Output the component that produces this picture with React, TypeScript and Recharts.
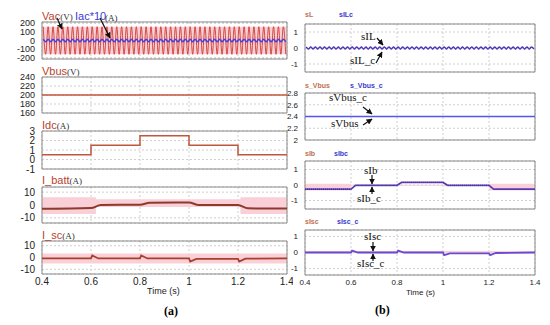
import type { ReactNode } from 'react';
import { ComposedChart, Line, Area, XAxis, YAxis, CartesianGrid, ReferenceArea } from 'recharts';

const timeTicks = [0.4, 0.6, 0.8, 1, 1.2, 1.4];

// 50 Hz signals, one value per half-cycle peak (0.405 s, 0.415 s, ...)
const vacPeaks = [
  160, -160, 160, -160, 160, -160, 160, -160, 160, -160,
  160, -160, 160, -160, 160, -160, 160, -160, 160, -160,
  160, -160, 160, -160, 160, -160, 160, -160, 160, -160,
  160, -160, 160, -160, 160, -160, 160, -160, 160, -160,
  160, -160, 160, -160, 160, -160, 160, -160, 160, -160,
  160, -160, 160, -160, 160, -160, 160, -160, 160, -160,
  160, -160, 160, -160, 160, -160, 160, -160, 160, -160,
  160, -160, 160, -160, 160, -160, 160, -160, 160, -160,
  160, -160, 160, -160, 160, -160, 160, -160, 160, -160,
  160, -160, 160, -160, 160, -160, 160, -160, 160, -160,
];
const iacPeaks = [
  14, -14, 14, -14, 14, -14, 14, -14, 14, -14,
  14, -14, 14, -14, 14, -14, 14, -14, 14, -14,
  14, -14, 14, -14, 14, -14, 14, -14, 14, -14,
  14, -14, 14, -14, 14, -14, 14, -14, 14, -14,
  14, -14, 14, -14, 14, -14, 14, -14, 14, -14,
  14, -14, 14, -14, 14, -14, 14, -14, 14, -14,
  14, -14, 14, -14, 14, -14, 14, -14, 14, -14,
  14, -14, 14, -14, 14, -14, 14, -14, 14, -14,
  14, -14, 14, -14, 14, -14, 14, -14, 14, -14,
  14, -14, 14, -14, 14, -14, 14, -14, 14, -14,
];
const sILPeaks = [
  0.06, -0.06, 0.06, -0.06, 0.06, -0.06, 0.06, -0.06, 0.06, -0.06,
  0.06, -0.06, 0.06, -0.06, 0.06, -0.06, 0.06, -0.06, 0.06, -0.06,
  0.06, -0.06, 0.06, -0.06, 0.06, -0.06, 0.06, -0.06, 0.06, -0.06,
  0.06, -0.06, 0.06, -0.06, 0.06, -0.06, 0.06, -0.06, 0.06, -0.06,
  0.06, -0.06, 0.06, -0.06, 0.06, -0.06, 0.06, -0.06, 0.06, -0.06,
  0.06, -0.06, 0.06, -0.06, 0.06, -0.06, 0.06, -0.06, 0.06, -0.06,
  0.06, -0.06, 0.06, -0.06, 0.06, -0.06, 0.06, -0.06, 0.06, -0.06,
  0.06, -0.06, 0.06, -0.06, 0.06, -0.06, 0.06, -0.06, 0.06, -0.06,
  0.06, -0.06, 0.06, -0.06, 0.06, -0.06, 0.06, -0.06, 0.06, -0.06,
  0.06, -0.06, 0.06, -0.06, 0.06, -0.06, 0.06, -0.06, 0.06, -0.06,
];

const vbusT = [0.4, 1.4];
const vbusV = [200, 200];
const sVbusV = [2.4, 2.4];

const idcT = [0.4, 0.6, 0.6, 0.8, 0.8, 1.0, 1.0, 1.2, 1.2, 1.4];
const idcV = [0.5, 0.5, 1.5, 1.5, 2.5, 2.5, 1.5, 1.5, 0.5, 0.5];

const battT = [0.4, 0.6, 0.64, 0.8, 0.84, 1.0, 1.04, 1.2, 1.24, 1.4];
const battV = [-3, -2.4, 0, 0.2, 1.8, 2, 0, 0, -2.6, -2.8];
const battBandT = [0.4, 0.62, 0.62, 1.21, 1.21, 1.4];
const battBandLo = [-7, -7, -1.5, -1.5, -7, -7];
const battBandHi = [6, 6, 4.5, 4.5, 6, 6];

const iscT = [0.4, 0.6, 0.605, 0.63, 0.8, 0.805, 0.83, 1.0, 1.005, 1.03, 1.2, 1.205, 1.23, 1.4];
const iscV = [-0.8, -0.8, 1.8, -0.8, -0.8, 1.8, -0.8, -0.8, -3.5, -1.2, -1.2, -3.5, -1, -0.8];
const iscBandT = [0.4, 1.4];
const iscBandLo = [-5, -5];
const iscBandHi = [3.5, 3.5];

const vacBandT = [0.4, 1.4];
const vacBandLo = [-160, -160];
const vacBandHi = [160, 160];

const sIbT = [0.4, 0.6, 0.62, 0.8, 0.82, 1.0, 1.02, 1.2, 1.22, 1.4];
const sIbV = [-0.27, -0.27, -0.02, -0.02, 0.17, 0.17, -0.02, -0.02, -0.27, -0.27];
const sIbBandT = [0.4, 0.6, 0.6, 1.2, 1.2, 1.4];
const sIbBandLo = [-0.35, -0.35, -0.05, -0.05, -0.35, -0.35];
const sIbBandHi = [0.08, 0.08, 0.02, 0.02, 0.08, 0.08];

const sIscT = [0.4, 0.6, 0.605, 0.63, 0.8, 0.805, 0.83, 1.0, 1.005, 1.03, 1.2, 1.205, 1.23, 1.4];
const sIscV = [0, 0, 0.12, 0, 0, 0.12, 0, 0, -0.16, -0.05, -0.05, -0.16, -0.03, 0];
const sIscBandT = [0.4, 1.4];
const sIscBandLo = [-0.04, -0.04];
const sIscBandHi = [0.1, 0.1];

const acRows = vacPeaks.map((v, i) => ({
  t: 0.405 + i * 0.01,
  vac: v,
  iac: iacPeaks[i],
  sIL: sILPeaks[i],
}));
const rows = (t: number[], v: number[]) => t.map((x, i) => ({ t: x, v: v[i] }));
const band = (t: number[], lo: number[], hi: number[]) =>
  t.map((x, i) => ({ t: x, band: [lo[i], hi[i]] }));

const SANS = 'Arial, "Liberation Sans", sans-serif';
const SERIF = '"Times New Roman", "Liberation Serif", serif';
const PAD = 6;

type PanelProps = {
  left: number;
  top: number;
  plotW: number;
  plotH: number;
  axisW: number;
  domain: [number, number];
  ticks: number[];
  small?: boolean;
  tickSize?: number;
  showTime?: boolean;
  children: ReactNode;
};

function Panel({ left, top, plotW, plotH, axisW, domain, ticks, small, tickSize, showTime, children }: PanelProps) {
  const fs = tickSize ?? (small ? 8 : 10);
  const xH = showTime ? (small ? 14 : 14) : 0;
  const yTick = { fontSize: fs, fill: '#222', fontFamily: SANS };
  const xTick = { fontSize: small ? 8 : 10, fill: '#222', fontFamily: SANS };
  return (
    <div style={{ position: 'absolute', left: left - axisW, top: top - PAD }}>
      <ComposedChart
        width={axisW + plotW + PAD}
        height={plotH + PAD * 2 + xH}
        margin={{ top: PAD, right: PAD, bottom: PAD, left: 0 }}
      >
        <CartesianGrid strokeDasharray="2 2" stroke="#cfcfcf" />
        <XAxis
          type="number"
          dataKey="t"
          domain={[0.4, 1.4]}
          ticks={timeTicks}
          allowDataOverflow
          hide={!showTime}
          height={xH}
          tick={xTick}
          tickLine={false}
          axisLine={false}
          tickSize={2}
          tickMargin={2}
          tickFormatter={(v: number) => String(Number(v.toFixed(1)))}
        />
        <YAxis
          type="number"
          domain={domain}
          ticks={ticks}
          allowDataOverflow
          width={axisW}
          tick={yTick}
          tickLine={false}
          axisLine={false}
          tickSize={4}
          tickMargin={3}
          interval={0}
        />
        {children}
        <ReferenceArea x1={0.4} x2={1.4} y1={domain[0]} y2={domain[1]} fill="none" stroke="#8a8a8a" strokeWidth={1} />
      </ComposedChart>
    </div>
  );
}

function Txt({ x, y, children, style }: { x: number; y: number; children: ReactNode; style?: object }) {
  return (
    <div
      style={{
        position: 'absolute',
        left: x,
        top: y,
        whiteSpace: 'nowrap',
        lineHeight: 1,
        fontSize: 11,
        fontFamily: SANS,
        ...style,
      }}
    >
      {children}
    </div>
  );
}

const pinkBand = (data: { t: number; band: number[] }[]) => (
  <Area data={data} dataKey="band" type="linear" stroke="none" fill="#f9d0d8" fillOpacity={1} isAnimationActive={false} />
);

const L = { left: 42, plotW: 245, axisW: 42 };
const R = { left: 305, plotW: 230, axisW: 25, small: true };

const arrows: [number, number, number, number][] = [
  [57, 18, 62, 29],
  [100, 18, 110, 38],
  [377, 38, 383, 45],
  [376, 63, 382, 52],
  [363, 107, 372, 114],
  [363, 125, 372, 119],
  [372, 175, 372, 184],
  [372, 194, 372, 187],
  [373, 242, 373, 251],
  [373, 261, 373, 254],
];

export default function App() {
  const title = { fontSize: 11 };
  const unit = { fontSize: 9, color: '#333', fontFamily: SERIF };
  const red = '#b8432f';
  const legend = { fontSize: 7, fontWeight: 700 };
  const ann = { fontSize: 11, fontFamily: SERIF, color: '#111' };
  return (
    <div style={{ position: 'absolute', left: 0, top: 0, width: 550, height: 325, background: '#fff', overflow: 'hidden' }}>
      {/* (a) */}
      <Panel {...L} top={22} plotH={37} domain={[-215, 215]} ticks={[200, 100, 0, -100, -200]} tickSize={9}>
        {pinkBand(band(vacBandT, vacBandLo, vacBandHi))}
        <Line data={acRows} dataKey="vac" type="monotone" stroke="#d4463c" strokeWidth={1} dot={false} isAnimationActive={false} />
        <Line data={acRows} dataKey="iac" type="monotone" stroke="#4a3fd6" strokeWidth={1.5} dot={false} isAnimationActive={false} />
      </Panel>
      <Panel {...L} top={77} plotH={36} domain={[160, 240]} ticks={[240, 220, 200, 180, 160]} tickSize={9}>
        <Line data={rows(vbusT, vbusV)} dataKey="v" type="linear" stroke="#c0563c" strokeWidth={1.5} dot={false} isAnimationActive={false} />
      </Panel>
      <Panel {...L} top={131} plotH={38} domain={[-1, 3]} ticks={[3, 2, 1, 0, -1]}>
        <Line data={rows(idcT, idcV)} dataKey="v" type="linear" stroke="#c0563c" strokeWidth={1.5} dot={false} isAnimationActive={false} />
      </Panel>
      <Panel {...L} top={187} plotH={36} domain={[-14, 14]} ticks={[10, 0, -10]}>
        {pinkBand(band(battBandT, battBandLo, battBandHi))}
        <Line data={rows(battT, battV)} dataKey="v" type="monotone" stroke="#8c3b2a" strokeWidth={2} dot={false} isAnimationActive={false} />
      </Panel>
      <Panel {...L} top={241} plotH={33} domain={[-14, 14]} ticks={[10, 0, -10]} showTime>
        {pinkBand(band(iscBandT, iscBandLo, iscBandHi))}
        <Line data={rows(iscT, iscV)} dataKey="v" type="linear" stroke="#a83e2c" strokeWidth={1.8} dot={false} isAnimationActive={false} />
      </Panel>

      {/* (b) */}
      <Panel {...R} top={24} plotH={48} domain={[-1.5, 1.5]} ticks={[1, 0, -1]}>
        <Line data={acRows} dataKey="sIL" type="monotone" stroke="#6b4ad0" strokeWidth={1.5} dot={false} isAnimationActive={false} />
        <Line data={acRows} dataKey="sIL" name="sILc" type="monotone" stroke="#2b2a7a" strokeWidth={1} strokeDasharray="1 1" dot={false} isAnimationActive={false} />
      </Panel>
      <Panel {...R} top={93} plotH={47} domain={[2, 2.8]} ticks={[2.8, 2.6, 2.4, 2.2, 2]}>
        <Line data={rows(vbusT, sVbusV)} dataKey="v" type="linear" stroke="#5656ee" strokeWidth={1.5} dot={false} isAnimationActive={false} />
      </Panel>
      <Panel {...R} top={161} plotH={48} domain={[-1.55, 1.55]} ticks={[1, 0, -1]}>
        {pinkBand(band(sIbBandT, sIbBandLo, sIbBandHi))}
        <Line data={rows(sIbT, sIbV)} dataKey="v" type="linear" stroke="#6b4ad0" strokeWidth={1.8} dot={false} isAnimationActive={false} />
        <Line data={rows(sIbT, sIbV)} dataKey="v" name="sIbc" type="linear" stroke="#2b2a6a" strokeWidth={1} strokeDasharray="1 1" dot={false} isAnimationActive={false} />
      </Panel>
      <Panel {...R} top={230} plotH={45} domain={[-1.4, 1.4]} ticks={[1, 0, -1]} showTime>
        {pinkBand(band(sIscBandT, sIscBandLo, sIscBandHi))}
        <Line data={rows(sIscT, sIscV)} dataKey="v" type="linear" stroke="#6b4ad0" strokeWidth={1.8} dot={false} isAnimationActive={false} />
      </Panel>

      {/* panel titles (a) */}
      <Txt x={42} y={11}><span style={{ ...title, color: red }}>Vac</span><span style={unit}>(V)</span></Txt>
      <Txt x={75} y={11}><span style={{ ...title, color: '#3b3bd6' }}>Iac*10</span></Txt>
      <Txt x={105} y={12}><span style={unit}>(A)</span></Txt>
      <Txt x={42} y={66}><span style={{ ...title, color: red }}>Vbus</span><span style={unit}>(V)</span></Txt>
      <Txt x={42} y={120}><span style={{ ...title, color: red }}>Idc</span><span style={unit}>(A)</span></Txt>
      <Txt x={42} y={175}><span style={{ ...title, color: red }}>I_batt</span><span style={unit}>(A)</span></Txt>
      <Txt x={42} y={230}><span style={{ ...title, color: red }}>I_sc</span><span style={unit}>(A)</span></Txt>
      <Txt x={147} y={287} style={{ fontSize: 9, color: '#222' }}>Time (s)</Txt>
      <Txt x={164} y={305} style={{ fontSize: 12, fontWeight: 700, fontFamily: SERIF }}>(a)</Txt>

      {/* legends (b) */}
      <Txt x={305} y={11} style={{ ...legend, color: '#c0704f' }}>sL</Txt>
      <Txt x={339} y={11} style={{ ...legend, color: '#3a3ad0' }}>sILc</Txt>
      <Txt x={305} y={82} style={{ ...legend, color: '#c0704f' }}>s_Vbus</Txt>
      <Txt x={350} y={82} style={{ ...legend, color: '#3a3ad0' }}>s_Vbus_c</Txt>
      <Txt x={305} y={150} style={{ ...legend, color: '#c0704f' }}>sIb</Txt>
      <Txt x={334} y={150} style={{ ...legend, color: '#3a3ad0' }}>sIbc</Txt>
      <Txt x={305} y={218} style={{ ...legend, color: '#c0704f' }}>sIsc</Txt>
      <Txt x={337} y={218} style={{ ...legend, color: '#3a3ad0' }}>sIsc_c</Txt>
      <Txt x={406} y={289} style={{ fontSize: 8, color: '#222' }}>Time (s)</Txt>
      <Txt x={375} y={304} style={{ fontSize: 12, fontWeight: 700, fontFamily: SERIF }}>(b)</Txt>

      {/* annotations */}
      <Txt x={361} y={31} style={ann}>sIL</Txt>
      <Txt x={350} y={55} style={ann}>sIL_c</Txt>
      <Txt x={329} y={92} style={ann}>sVbus_c</Txt>
      <Txt x={331} y={118} style={ann}>sVbus</Txt>
      <Txt x={364} y={165} style={ann}>sIb</Txt>
      <Txt x={357} y={193} style={ann}>sIb_c</Txt>
      <Txt x={364} y={231} style={ann}>sIsc</Txt>
      <Txt x={357} y={258} style={ann}>sIsc_c</Txt>

      <svg width={550} height={325} style={{ position: 'absolute', left: 0, top: 0, pointerEvents: 'none' }}>
        <defs>
          <marker id="ah" viewBox="0 0 10 10" refX="9" refY="5" markerWidth="5" markerHeight="5" orient="auto">
            <path d="M0,0 L10,5 L0,10 z" fill="#111" />
          </marker>
        </defs>
        {arrows.map(([x1, y1, x2, y2], i) => (
          <line key={i} x1={x1} y1={y1} x2={x2} y2={y2} stroke="#111" strokeWidth={1.2} markerEnd="url(#ah)" />
        ))}
      </svg>
    </div>
  );
}
